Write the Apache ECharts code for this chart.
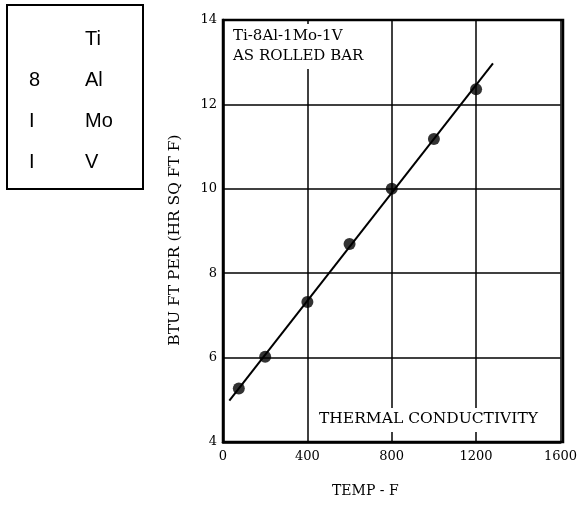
<!DOCTYPE html>
<html lang="en">
<head>
    <meta charset="UTF-8">
    <title>Ti-8Al-1Mo-1V Thermal Conductivity</title>
    <script src="https://cdn.jsdelivr.net/npm/echarts@6/dist/echarts.min.js"></script>
    <style type="text/css">
        html, body {
            margin: 0;
            background-color: #fff;
        }
        #chart {
            width: 580px;
            height: 506px;
        }
    </style>
</head>
<body>
    <div id="chart"></div>
    <script type="text/javascript">
        // measured points (temp F, BTU FT per HR SQ FT F)
        var tempF = [75, 200, 400, 600, 800, 1000, 1200];
        var conductivity = [5.27, 6.02, 7.32, 8.69, 10.0, 11.18, 12.36];
        // ends of the fitted line
        var fitTemp = [30, 1280];
        var fitK = [4.98, 12.97];
        // composition box
        var compAmount = ['', '8', 'I', 'I'];
        var compElement = ['Ti', 'Al', 'Mo', 'V'];

        var serif = '"DejaVu Serif", "Liberation Serif", serif';
        var sans = '"Liberation Sans", Arial, sans-serif';

        var chart = echarts.init(document.getElementById('chart'));

        var points = tempF.map(function (t, i) { return [t, conductivity[i]]; });
        var fit = fitTemp.map(function (t, i) { return [t, fitK[i]]; });

        var boxText = [];
        for (var i = 0; i < compElement.length; i++) {
            var y = 39 + i * 41.3;
            boxText.push({
                type: 'text', left: 29, top: y - 10,
                style: { text: compAmount[i], font: '20px ' + sans, fill: '#000' }
            });
            boxText.push({
                type: 'text', left: 85, top: y - 10,
                style: { text: compElement[i], font: '20px ' + sans, fill: '#000' }
            });
        }

        var option = {
            backgroundColor: '#fff',
            animation: false,
            grid: { left: 223, top: 20, width: 340, height: 422 },
            xAxis: {
                type: 'value',
                min: 0, max: 1600, interval: 400,
                axisLine: { show: true, lineStyle: { color: '#000', width: 2.5 } },
                axisTick: { show: false },
                axisLabel: {
                    color: '#000', fontFamily: serif, fontSize: 13, margin: 8,
                    formatter: function (v) { return String(v); }
                },
                splitLine: { show: true, lineStyle: { color: '#000', width: 1.5 } }
            },
            yAxis: {
                type: 'value',
                min: 4, max: 14, interval: 2,
                axisLine: { show: true, lineStyle: { color: '#000', width: 2.5 } },
                axisTick: { show: false },
                axisLabel: { color: '#000', fontFamily: serif, fontSize: 13, margin: 6 },
                splitLine: { show: true, lineStyle: { color: '#000', width: 1.5 } }
            },
            graphic: [
                // right and top frame of the plot
                { type: 'rect', shape: { x: 223, y: 20, width: 340, height: 422 },
                  style: { fill: 'none', stroke: '#000', lineWidth: 2.5 }, z: 1 },
                // title inside the plot
                { type: 'rect', shape: { x: 228, y: 24, width: 140, height: 45 },
                  style: { fill: '#fff' }, z: 5 },
                { type: 'text', left: 233, top: 26, z: 6,
                  style: { text: 'Ti-8Al-1Mo-1V\nAS ROLLED BAR', font: '15px ' + serif,
                           fill: '#000', lineHeight: 20 } },
                { type: 'rect', shape: { x: 315, y: 408, width: 234, height: 24 },
                  style: { fill: '#fff' }, z: 5 },
                { type: 'text', left: 319, top: 411, z: 6,
                  style: { text: 'THERMAL CONDUCTIVITY', font: '15.5px ' + serif, fill: '#000' } },
                // axis names
                { type: 'text', left: 332, top: 484,
                  style: { text: 'TEMP - F', font: '14px ' + serif, fill: '#000' } },
                { type: 'text', x: 175, y: 240, rotation: Math.PI / 2,
                  style: { text: 'BTU FT PER (HR SQ FT F)', font: '15.5px ' + serif, fill: '#000',
                           align: 'center', verticalAlign: 'middle' } },
                // composition box
                { type: 'rect', shape: { x: 7, y: 5, width: 136, height: 184 },
                  style: { fill: 'none', stroke: '#000', lineWidth: 2 } }
            ].concat(boxText),
            series: [
                {
                    name: 'fit',
                    type: 'line',
                    data: fit,
                    symbol: 'none',
                    lineStyle: { color: '#000', width: 2 },
                    z: 3
                },
                {
                    name: 'measured',
                    type: 'scatter',
                    data: points,
                    symbol: 'circle',
                    symbolSize: 12,
                    itemStyle: { color: '#000' },
                    z: 4
                }
            ]
        };

        chart.setOption(option);
    </script>
</body>
</html>
